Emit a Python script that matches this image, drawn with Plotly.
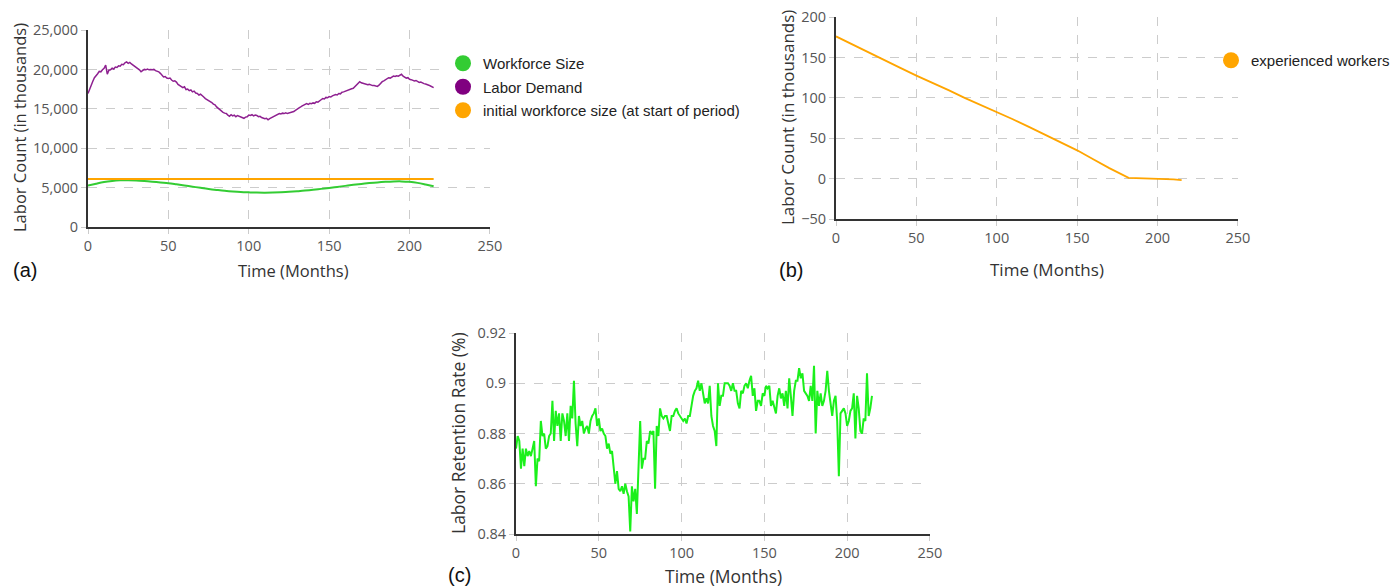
import plotly.graph_objects as go

# ---------------- data ----------------
months = list(range(216))

labor_demand = [
16950,17550,18050,18500,18950,19150,19450,19750,19700,19950,
20150,20550,19400,19900,19950,20150,20050,20300,20250,20450,
20400,20650,20600,20850,20950,20780,20900,20700,20550,20400,
20300,20100,19950,19700,19850,20000,19950,20050,19950,20000,
19950,20000,19850,19800,19700,19500,19250,19050,19100,18900,
18850,18900,18650,18500,18550,18400,18100,17950,17900,17700,
17800,17450,17500,17300,17400,17150,17250,17000,16950,16750,
16850,16600,16500,16300,16200,16050,15950,15800,15600,15500,
15250,15050,14900,14650,14550,14450,14400,14200,14050,14250,
14100,14200,14000,14150,14050,13950,13850,13800,13950,14000,
14200,14150,14250,14100,14200,14150,14000,14050,13900,13850,
13750,13800,13600,13750,13850,13900,14050,14150,14300,14400,
14350,14450,14400,14500,14400,14450,14500,14550,14650,14800,
14900,15050,15200,15350,15450,15500,15650,15550,15700,15650,
15750,15700,15900,15850,15950,16150,16300,16250,16450,16400,
16550,16500,16650,16700,16800,16750,16950,16900,17100,17150,
17250,17300,17400,17450,17550,17600,17800,17950,18150,18450,
18300,18250,18200,18100,18050,18100,18000,17950,17950,17900,
17850,18000,18250,18450,18550,18700,18800,18950,18900,19050,
19150,19100,19200,19150,19300,19380,19150,19050,18900,18950,
18750,18700,18650,18550,18600,18450,18350,18400,18250,18200,
18150,18100,18000,17900,17750,17700]

workforce_t = [0,5,10,15,20,25,30,35,40,45,50,55,60,65,70,75,80,85,90,95,100,
               105,110,115,120,125,130,135,140,145,150,155,160,165,170,175,180,
               185,190,195,200,205,210,215]
workforce_size = [5250,5500,5720,5850,5920,5940,5910,5840,5750,5650,5560,5420,
                  5270,5120,4970,4830,4710,4600,4510,4440,4400,4370,4360,4380,
                  4420,4470,4540,4620,4720,4840,4960,5090,5220,5350,5470,5570,
                  5660,5730,5780,5790,5730,5600,5400,5170]

initial_t = [0, 215]
initial_workforce = [6100, 6100]

exp_t = [0,10,20,30,40,50,55,60,70,80,90,100,110,120,130,140,150,160,170,182,190,200,210,215]
experienced = [176,166,156.5,147,137,127.5,123,119,109.5,100,91.5,83,73.5,64,54.5,44.5,
               35,24,13,1,0.5,0,-1,-2]

retention = [
0.874,0.879,0.877,0.866,0.874,0.867,0.874,0.871,0.873,0.871,
0.874,0.877,0.859,0.870,0.869,0.885,0.879,0.880,0.874,0.875,
0.879,0.880,0.893,0.877,0.889,0.883,0.888,0.877,0.888,0.885,
0.879,0.888,0.877,0.891,0.886,0.901,0.884,0.875,0.887,0.883,
0.885,0.880,0.882,0.883,0.880,0.885,0.887,0.888,0.890,0.883,
0.886,0.881,0.882,0.880,0.879,0.874,0.876,0.872,0.873,0.865,
0.860,0.865,0.858,0.857,0.859,0.856,0.860,0.857,0.855,0.841,
0.859,0.853,0.858,0.848,0.866,0.885,0.866,0.870,0.870,0.877,
0.876,0.881,0.880,0.881,0.858,0.883,0.879,0.890,0.887,0.886,
0.887,0.887,0.884,0.881,0.887,0.887,0.889,0.890,0.888,0.887,
0.886,0.885,0.886,0.884,0.887,0.887,0.891,0.895,0.897,0.898,
0.901,0.897,0.900,0.895,0.892,0.894,0.892,0.899,0.887,0.883,
0.881,0.875,0.900,0.891,0.895,0.895,0.900,0.900,0.900,0.899,
0.897,0.900,0.897,0.897,0.892,0.890,0.897,0.896,0.899,0.900,
0.898,0.901,0.903,0.895,0.898,0.889,0.893,0.893,0.891,0.896,
0.895,0.899,0.898,0.899,0.891,0.893,0.890,0.888,0.895,0.898,
0.894,0.896,0.891,0.897,0.890,0.902,0.895,0.887,0.897,0.901,
0.901,0.906,0.902,0.904,0.897,0.896,0.895,0.893,0.899,0.893,
0.907,0.880,0.897,0.891,0.896,0.891,0.893,0.897,0.905,0.897,
0.891,0.887,0.893,0.895,0.885,0.863,0.888,0.889,0.890,0.888,
0.883,0.885,0.889,0.890,0.896,0.878,0.895,0.890,0.881,0.880,
0.886,0.885,0.904,0.887,0.890,0.895]

# ---------------- styling ----------------
W, H = 1399, 586
OFF = 8  # page body margin: screen position = figure position + OFF
GREEN = "#33cc33"
PURPLE = "#8e2090"
ORANGE = "#ffa500"
LIME = "#1bf01b"


def px(x):
    return (x - OFF) / W


def py(y):
    return 1 - (y - OFF) / H


def xdom(a, b):
    return [px(a), px(b)]


def ydom(top, bot):
    return [py(bot), py(top)]


axis_common = dict(
    automargin=False,
    showline=True, linecolor="#333333", linewidth=2,
    showgrid=True, gridcolor="#cccccc", griddash="dash", gridwidth=1,
    zeroline=False, ticks="outside", ticklen=5, tickcolor="#cccccc",
    ticklabeloverflow="allow",
    tickfont=dict(family="Open Sans", size=14.5, color="#555555"),
)


def axis_title(text, x, y, size, vertical=False):
    return dict(text=text, x=px(x), y=py(y), xref="paper", yref="paper",
                xanchor="center", yanchor="middle", showarrow=False,
                textangle=-90 if vertical else 0,
                font=dict(family="Open Sans", size=size, color="#333333"))


def panel_label(text, x, y):
    return dict(text=text, x=px(x), y=py(y), xref="paper", yref="paper",
                xanchor="center", yanchor="middle", showarrow=False,
                font=dict(family="Liberation Sans", size=20, color="#111111"))


fig = go.Figure()

# panel (a)
fig.add_trace(go.Scatter(x=months, y=labor_demand, mode="lines",
                         line=dict(color=PURPLE, width=1.5), showlegend=False,
                         xaxis="x", yaxis="y"))
fig.add_trace(go.Scatter(x=workforce_t, y=workforce_size, mode="lines",
                         line=dict(color=GREEN, width=2, shape="spline"), showlegend=False,
                         xaxis="x", yaxis="y"))
fig.add_trace(go.Scatter(x=initial_t, y=initial_workforce, mode="lines",
                         line=dict(color=ORANGE, width=2), showlegend=False,
                         xaxis="x", yaxis="y"))
for name, col in [("Workforce Size", GREEN), ("Labor Demand", "#800080"),
                  ("initial workforce size (at start of period)", ORANGE)]:
    fig.add_trace(go.Scatter(x=[None], y=[None], mode="markers", name=name,
                             marker=dict(color=col, size=16), legend="legend",
                             legendgroup=name, xaxis="x", yaxis="y"))

# panel (b)
fig.add_trace(go.Scatter(x=exp_t, y=experienced, mode="lines",
                         line=dict(color=ORANGE, width=1.8), showlegend=False,
                         xaxis="x2", yaxis="y2"))
fig.add_trace(go.Scatter(x=[None], y=[None], mode="markers", name="experienced workers",
                         marker=dict(color=ORANGE, size=16), legend="legend2",
                         xaxis="x2", yaxis="y2"))

# panel (c)
fig.add_trace(go.Scatter(x=months, y=retention, mode="lines",
                         line=dict(color=LIME, width=2), showlegend=False,
                         xaxis="x3", yaxis="y3"))

fig.update_layout(
    width=W, height=H, autosize=False,
    margin=dict(l=0, r=0, t=0, b=0, autoexpand=False),
    paper_bgcolor="white", plot_bgcolor="white",
    xaxis=dict(axis_common, domain=xdom(88, 490), anchor="y", range=[0, 250.05], dtick=50),
    yaxis=dict(axis_common, domain=ydom(30, 227), anchor="x", range=[0, 25005], dtick=5000,
               tickformat=",d"),
    xaxis2=dict(axis_common, domain=xdom(836, 1238), anchor="y2", range=[0, 250.05], dtick=50),
    yaxis2=dict(axis_common, domain=ydom(17, 219), anchor="x2", range=[-50, 200.05], dtick=50,
                tick0=0),
    xaxis3=dict(axis_common, domain=xdom(516, 930), anchor="y3", range=[0, 250.05], dtick=50),
    yaxis3=dict(axis_common, domain=ydom(333, 534), anchor="x3", range=[0.84, 0.92002],
                dtick=0.02),
    legend=dict(x=px(443), y=py(47), xanchor="left", yanchor="top",
                bgcolor="white", tracegroupgap=1,
                font=dict(family="Liberation Sans", size=15, color="#222222")),
    legend2=dict(x=px(1211), y=py(44), xanchor="left", yanchor="top",
                 bgcolor="rgba(255,255,255,0)",
                 font=dict(family="Liberation Sans", size=15, color="#222222")),
    annotations=[
        axis_title("Time (Months)", 293, 270, 16.5),
        axis_title("Labor Count (in thousands)", 20, 128, 16.5, vertical=True),
        axis_title("Time (Months)", 1047, 269, 17),
        axis_title("Labor Count (in thousands)", 787, 118, 17, vertical=True),
        axis_title("Time (Months)", 723, 576, 17.5),
        axis_title("Labor Retention Rate (%)", 458, 433, 17.5, vertical=True),
        panel_label("(a)", 25, 270),
        panel_label("(b)", 791, 270),
        panel_label("(c)", 459, 575),
    ],
)

fig.write_html("out.html")
